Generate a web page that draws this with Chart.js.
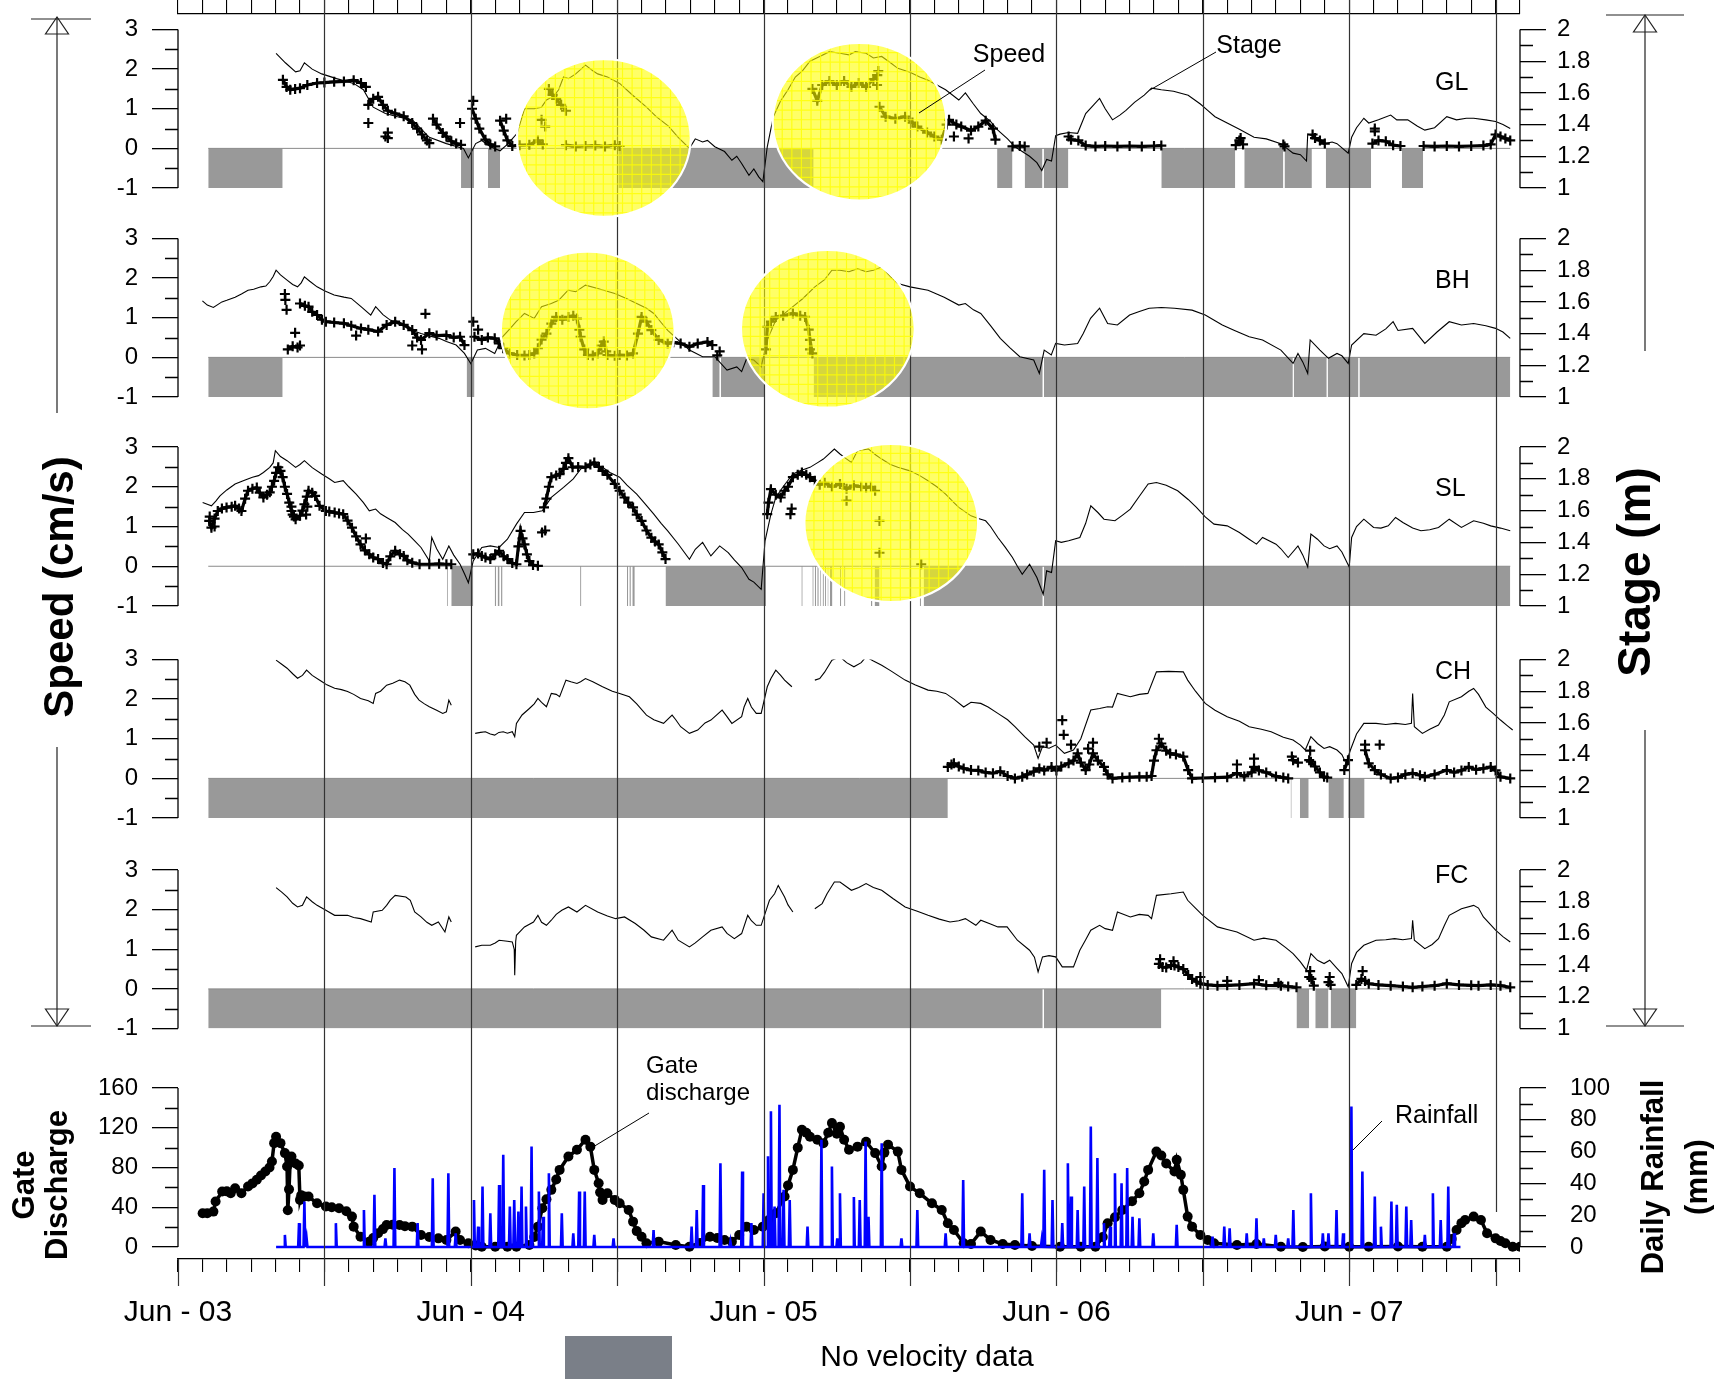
<!DOCTYPE html>
<html>
<head>
<meta charset="utf-8">
<script src="https://cdn.jsdelivr.net/npm/chart.js@4.4.1/dist/chart.umd.min.js"></script>
<style>
  html, body { margin: 0; padding: 0; background: #fff; }
  #page { position: relative; width: 1720px; height: 1379px; overflow: hidden; background: #fff; }
  #page canvas { position: absolute; left: 0; }
</style>
</head>
<body>
<div id="page">
  <canvas id="cGL" width="1720" height="220" style="top:0px"></canvas>
  <canvas id="cBH" width="1720" height="210" style="top:220px"></canvas>
  <canvas id="cSL" width="1720" height="210" style="top:430px"></canvas>
  <canvas id="cCH" width="1720" height="210" style="top:640px"></canvas>
  <canvas id="cFC" width="1720" height="210" style="top:850px"></canvas>
  <canvas id="cQ" width="1720" height="319" style="top:1060px"></canvas>
</div>
<script>
var FONT = "'Liberation Sans', Arial, Helvetica, sans-serif";

// x = months since 1 Jun 2003
var xTickLabels = ['Jun - 03', 'Jun - 04', 'Jun - 05', 'Jun - 06', 'Jun - 07'];
var halfYearLines = [6, 12, 18, 24, 30, 36, 42, 48, 54];
var speedTicks = [-1, 0, 1, 2, 3];
var speedMinor = [-0.5, 0.5, 1.5, 2.5];
var stageTicks = [1, 1.2, 1.4, 1.6, 1.8, 2];
var stageMinor = [1.1, 1.3, 1.5, 1.7, 1.9];
var gateTicks = [0, 40, 80, 120, 160];
var gateMinor = [20, 60, 100, 140];
var rainTicks = [0, 20, 40, 60, 80, 100];
var rainMinor = [10, 30, 50, 70, 90];
var panelNames = ['GL', 'BH', 'SL', 'CH', 'FC'];
var zeroLine = [[1.24, 0], [54.6, 0]];

// ---- GL ----
var glStage = [[4.02,1.849],[4.4,1.79],[4.82,1.733],[5.0,1.74],[5.18,1.79],[5.5,1.75],[5.89,1.72],[6.5,1.69],[7.2,1.66],[7.6,1.62],[8.0,1.51],[8.5,1.47],[9.0,1.45],[9.6,1.43],[10.3,1.32],[11.0,1.28],[11.7,1.25],[11.9,1.19],[12.2,1.28],[12.45,1.30],[12.8,1.26],[13.2,1.235],[13.5,1.275],[13.9,1.345],[14.2,1.50],[14.6,1.50],[14.9,1.51],[15.1,1.555],[15.4,1.58],[15.6,1.62],[15.8,1.70],[16.0,1.69],[16.3,1.72],[16.7,1.775],[17.0,1.74],[17.2,1.72],[17.6,1.70],[18.1,1.66],[18.6,1.59],[19.2,1.51],[19.6,1.45],[20.1,1.39],[20.5,1.32],[20.96,1.25],[21.2,1.31],[21.5,1.29],[21.7,1.30],[22.0,1.26],[22.4,1.23],[22.7,1.175],[22.9,1.20],[23.1,1.155],[23.4,1.08],[23.6,1.12],[23.8,1.07],[23.97,1.04],[24.15,1.26],[24.4,1.45],[24.7,1.55],[25.0,1.62],[25.3,1.70],[25.6,1.74],[25.9,1.80],[26.3,1.83],[26.7,1.86],[27.13,1.85],[27.5,1.84],[27.76,1.86],[28.2,1.85],[28.5,1.82],[28.84,1.83],[29.2,1.79],[29.5,1.755],[30.0,1.73],[30.4,1.70],[30.74,1.68],[31.1,1.65],[31.46,1.62],[32.0,1.555],[32.27,1.60],[32.6,1.53],[32.9,1.47],[33.3,1.42],[33.6,1.365],[34.0,1.31],[34.3,1.26],[34.6,1.23],[34.9,1.20],[35.2,1.16],[35.4,1.11],[35.6,1.18],[35.8,1.17],[35.97,1.33],[36.15,1.34],[36.5,1.35],[36.87,1.345],[37.2,1.47],[37.5,1.52],[37.77,1.565],[38.0,1.50],[38.3,1.43],[38.6,1.46],[38.85,1.49],[39.2,1.54],[39.6,1.586],[39.9,1.63],[40.3,1.62],[40.8,1.61],[41.4,1.585],[41.9,1.53],[42.2,1.49],[42.5,1.45],[43.0,1.41],[43.5,1.37],[44.1,1.32],[44.6,1.31],[45.2,1.28],[45.7,1.22],[46.0,1.21],[46.25,1.17],[46.3,1.34],[46.6,1.32],[47.0,1.28],[47.3,1.29],[47.5,1.28],[47.96,1.22],[48.1,1.32],[48.3,1.38],[48.6,1.44],[48.8,1.41],[49.2,1.43],[49.7,1.46],[49.95,1.43],[50.4,1.43],[50.8,1.39],[51.1,1.365],[51.5,1.38],[52.0,1.45],[52.4,1.43],[52.8,1.44],[53.1,1.44],[53.6,1.43],[54.0,1.42],[54.3,1.40],[54.6,1.376]];
var glSpeed = [[4.3,1.73],[4.45,1.55],[4.6,1.48],[4.8,1.5],[5.0,1.52],[5.3,1.6],[5.7,1.65],[6.0,1.66],[6.4,1.68],[6.8,1.69],[7.2,1.72],[7.5,1.65],[7.7,1.55],null,[7.8,1.1],[8.0,1.25],[8.2,1.3],[8.4,1.1],[8.6,0.95],[8.9,0.88],[9.25,0.81],[9.6,0.64],[9.8,0.5],[10.0,0.35],[10.2,0.2],[10.3,0.13],null,[10.45,0.75],[10.6,0.6],[10.85,0.39],[11.0,0.3],[11.2,0.18],[11.4,0.12],[11.6,0.09],null,[12.05,1.0],[12.2,0.75],[12.35,0.5],[12.6,0.22],[12.8,0.1],[13.0,0.05],null,[13.2,0.7],[13.35,0.45],[13.5,0.2],[13.7,0.06],[14.0,0.08],[14.4,0.09],[14.75,0.2],[14.95,0.1],null,[15.2,1.5],[15.35,1.35],[15.5,1.25],[15.7,1.1],[15.9,0.95],null,[15.9,0.08],[16.3,0.05],[16.7,0.06],[17.1,0.07],[17.5,0.05],[17.9,0.08],[18.1,0.06],null,[26.0,1.5],[26.2,1.2],[26.4,1.6],[26.7,1.7],[27.0,1.6],[27.3,1.7],[27.6,1.55],[27.9,1.65],[28.2,1.55],[28.5,1.75],[28.66,1.85],null,[28.75,1.05],[29.0,0.8],[29.4,0.75],[29.8,0.8],[30.1,0.65],[30.3,0.55],[30.7,0.4],[31.0,0.3],[31.3,0.22],[31.5,0.6],[31.6,0.72],[31.9,0.6],[32.1,0.55],[32.5,0.45],[32.8,0.55],[33.1,0.7],[33.4,0.5],[33.5,0.22],null,[34.2,0.05],[34.5,0.06],[34.7,0.05],null,[36.5,0.3],[36.6,0.22],[36.9,0.2],[37.2,0.07],[37.6,0.05],[38.0,0.06],[38.5,0.05],[39.0,0.06],[39.5,0.05],[40.0,0.06],[40.3,0.07],null,[43.35,0.08],[43.5,0.2],[43.65,0.1],null,[45.3,0.1],[45.35,0.05],null,[46.5,0.35],[46.6,0.26],[46.8,0.2],[47.0,0.12],null,[48.95,0.12],[49.2,0.2],[49.5,0.18],[49.8,0.08],[50.1,0.06],null,[51.05,0.06],[51.5,0.05],[52.0,0.06],[52.5,0.05],[53.0,0.06],[53.5,0.07],[53.8,0.1],[54.0,0.35],[54.2,0.3],[54.4,0.25],[54.6,0.2]];
var glScatter = [[7.8,0.64],[8.5,0.3],[8.6,0.26],[8.6,0.4],[11.56,0.64],[12.1,1.2],[13.45,0.75],[14.9,0.72],[15.05,0.55],[28.65,1.6],[28.7,1.95],[31.8,0.3],[32.4,0.25],[43.55,0.26],[49.05,0.43],[49.05,0.5]];
var glGaps = [[1.24,4.29],[11.6,12.13],[12.7,13.2],[18.05,26.05],[33.57,34.2],[34.7,35.43],[35.48,36.49],[40.3,43.33],[43.7,45.3],[45.35,46.47],[47.04,48.9],[50.16,51.03]];
var glCircles = [[17.45,0.26],[27.93,0.67]];

// ---- BH ----
var bhStage = [[1.0,1.607],[1.2,1.58],[1.45,1.565],[1.8,1.60],[2.0,1.61],[2.34,1.63],[2.6,1.65],[2.87,1.674],[3.1,1.68],[3.4,1.695],[3.6,1.70],[3.76,1.727],[3.9,1.76],[4.02,1.80],[4.2,1.77],[4.47,1.737],[4.7,1.71],[4.9,1.695],[5.05,1.72],[5.18,1.758],[5.4,1.73],[5.7,1.695],[6.0,1.67],[6.4,1.643],[6.8,1.63],[7.1,1.622],[7.5,1.57],[7.9,1.517],[8.1,1.57],[8.4,1.52],[8.7,1.485],[9.25,1.454],[9.6,1.42],[9.96,1.40],[10.3,1.385],[10.7,1.37],[11.0,1.35],[11.4,1.328],[11.74,1.275],[12.0,1.21],[12.27,1.296],[12.6,1.307],[12.98,1.275],[13.3,1.38],[13.6,1.43],[13.86,1.475],[14.2,1.527],[14.6,1.496],[14.9,1.57],[15.3,1.59],[15.6,1.61],[15.99,1.674],[16.3,1.664],[16.7,1.706],[17.2,1.685],[17.9,1.653],[18.4,1.62],[18.8,1.59],[19.2,1.56],[19.5,1.527],[19.8,1.47],[20.07,1.42],[20.5,1.36],[20.96,1.296],[21.5,1.254],[22.0,1.254],[22.5,1.17],[22.9,1.19],[23.1,1.16],[23.3,1.24],[23.6,1.233],[23.9,1.19],[24.15,1.36],[24.5,1.485],[24.8,1.52],[25.2,1.57],[25.6,1.62],[26.1,1.695],[26.5,1.74],[26.8,1.80],[27.13,1.80],[27.5,1.79],[27.85,1.81],[28.2,1.79],[28.5,1.80],[28.84,1.82],[29.2,1.76],[29.5,1.716],[30.0,1.695],[30.74,1.674],[31.4,1.63],[32.0,1.58],[32.27,1.59],[32.6,1.55],[32.9,1.527],[33.3,1.45],[33.7,1.37],[34.1,1.31],[34.5,1.254],[35.07,1.233],[35.3,1.149],[35.5,1.296],[35.79,1.265],[35.97,1.338],[36.33,1.328],[36.87,1.338],[37.1,1.40],[37.4,1.496],[37.77,1.56],[38.1,1.464],[38.5,1.454],[39.0,1.517],[39.4,1.54],[39.8,1.56],[40.3,1.565],[40.84,1.56],[41.56,1.548],[42.1,1.517],[42.8,1.454],[43.3,1.42],[43.9,1.38],[44.45,1.36],[45.2,1.296],[45.7,1.212],[45.9,1.275],[46.1,1.22],[46.3,1.149],[46.4,1.36],[46.8,1.296],[47.15,1.244],[47.5,1.275],[47.7,1.26],[47.96,1.212],[48.1,1.328],[48.6,1.40],[49.1,1.39],[49.5,1.43],[49.8,1.475],[50.0,1.42],[50.6,1.433],[51.1,1.338],[51.6,1.41],[52.1,1.475],[52.6,1.454],[53.1,1.464],[53.6,1.45],[54.0,1.433],[54.3,1.41],[54.6,1.37]];
var bhSpeed = [[4.5,0.2],[4.7,0.28],[4.9,0.25],[5.0,0.3],null,[5.0,1.36],[5.2,1.3],[5.35,1.28],[5.5,1.15],[5.7,1.07],[5.9,0.95],[6.06,0.9],[6.4,0.88],[6.8,0.86],[7.1,0.8],[7.5,0.73],[7.8,0.7],[8.2,0.65],[8.55,0.82],[8.9,0.9],[9.25,0.82],[9.6,0.69],[9.8,0.5],[9.96,0.44],[10.3,0.61],[10.6,0.55],[11.0,0.56],[11.3,0.5],[11.56,0.52],[11.74,0.31],null,[12.15,0.52],[12.45,0.44],[12.7,0.5],[12.98,0.48],[13.15,0.35],[13.33,0.23],[13.6,0.1],[13.9,0.06],[14.2,0.05],[14.4,0.06],[14.6,0.1],[14.75,0.23],[14.9,0.45],[15.1,0.6],[15.3,0.85],[15.5,1.02],[15.75,0.95],[16.0,1.02],[16.2,1.05],[16.35,0.98],[16.45,0.7],[16.5,0.52],[16.65,0.2],[16.8,0.06],[17.0,0.05],[17.2,0.1],[17.35,0.3],[17.45,0.4],[17.55,0.15],[17.6,0.06],[17.9,0.04],[18.1,0.06],[18.4,0.05],[18.65,0.1],[18.85,0.6],[19.0,1.02],[19.2,0.9],[19.4,0.69],[19.7,0.44],[20.07,0.35],[20.3,0.38],[20.6,0.35],[20.96,0.27],[21.3,0.35],[21.7,0.39],[21.9,0.31],null,[24.1,0.2],[24.15,0.77],[24.3,0.9],[24.5,1.02],[24.8,1.05],[25.2,1.11],[25.5,1.05],[25.7,1.02],[25.85,0.7],[25.9,0.44],[26.0,0.1]];
var bhScatter = [[4.38,1.6],[4.4,1.45],[4.45,1.2],[4.8,0.62],[7.3,0.55],[9.6,0.3],[10.0,0.2],[10.14,1.1],[12.1,0.9],[12.3,0.7],[22.1,0.05],[22.2,0.15],[25.9,0.2]];
var bhGaps = [[1.24,4.29],[11.83,12.15],[21.9,22.2],[22.25,24.06],[26.05,35.44],[35.49,45.69],[45.73,47.08],[47.12,48.38],[48.42,54.6]];
var bhCircles = [[16.79,0.68],[26.63,0.72]];

// ---- SL ----
var slStage = [[1.01,1.651],[1.2,1.64],[1.37,1.63],[1.55,1.66],[1.72,1.693],[2.0,1.73],[2.34,1.767],[2.7,1.79],[3.05,1.81],[3.3,1.82],[3.5,1.84],[3.76,1.872],[3.9,1.90],[3.99,1.977],[4.2,1.94],[4.47,1.914],[4.82,1.872],[5.0,1.89],[5.18,1.914],[5.5,1.87],[5.89,1.83],[6.2,1.80],[6.42,1.777],[6.77,1.788],[7.0,1.75],[7.3,1.704],[7.6,1.65],[7.84,1.599],[8.1,1.61],[8.3,1.58],[8.55,1.557],[8.9,1.525],[9.2,1.48],[9.43,1.452],[9.7,1.41],[9.96,1.368],[10.3,1.284],[10.4,1.431],[10.6,1.36],[10.85,1.294],[11.1,1.378],[11.3,1.32],[11.56,1.263],[11.75,1.20],[11.9,1.147],[12.1,1.284],[12.45,1.368],[12.8,1.378],[13.16,1.368],[13.5,1.42],[13.87,1.515],[14.2,1.588],[14.57,1.588],[14.93,1.599],[15.3,1.683],[15.8,1.746],[16.2,1.80],[16.5,1.861],[16.97,1.893],[17.4,1.872],[17.7,1.84],[18.1,1.81],[18.4,1.76],[18.8,1.704],[19.1,1.65],[19.5,1.578],[19.8,1.52],[20.07,1.473],[20.5,1.39],[20.96,1.294],[21.2,1.357],[21.5,1.40],[21.84,1.315],[22.2,1.378],[22.55,1.336],[22.8,1.29],[23.1,1.242],[23.4,1.168],[23.6,1.15],[23.9,1.105],[24.06,1.41],[24.3,1.578],[24.5,1.683],[24.8,1.75],[25.2,1.83],[25.5,1.85],[25.9,1.872],[26.2,1.90],[26.45,1.924],[26.9,1.987],[27.13,1.956],[27.35,1.93],[27.6,1.903],[27.85,1.977],[28.3,1.987],[28.6,1.95],[28.84,1.924],[29.2,1.89],[29.5,1.872],[30.0,1.85],[30.4,1.82],[30.74,1.788],[31.1,1.75],[31.46,1.704],[31.8,1.65],[32.0,1.62],[32.5,1.567],[32.8,1.55],[33.1,1.536],[33.3,1.50],[33.6,1.431],[33.9,1.37],[34.2,1.305],[34.4,1.25],[34.6,1.20],[34.9,1.263],[35.2,1.179],[35.46,1.074],[35.6,1.221],[35.8,1.21],[35.97,1.41],[36.2,1.40],[36.5,1.41],[36.96,1.431],[37.2,1.52],[37.41,1.63],[37.7,1.588],[37.95,1.546],[38.4,1.536],[38.7,1.57],[39.03,1.609],[39.4,1.69],[39.76,1.767],[40.1,1.777],[40.5,1.76],[40.97,1.725],[41.4,1.67],[41.74,1.62],[42.1,1.56],[42.46,1.515],[43.0,1.504],[43.5,1.462],[43.9,1.42],[44.2,1.389],[44.45,1.431],[45.0,1.389],[45.2,1.36],[45.5,1.305],[45.9,1.378],[46.1,1.32],[46.3,1.246],[46.43,1.452],[46.7,1.42],[46.97,1.378],[47.2,1.36],[47.5,1.378],[47.7,1.34],[48.0,1.246],[48.1,1.431],[48.3,1.50],[48.6,1.546],[49.0,1.494],[49.3,1.49],[49.6,1.504],[49.9,1.557],[50.2,1.525],[50.6,1.49],[50.94,1.473],[51.3,1.48],[51.66,1.494],[52.1,1.546],[52.6,1.494],[53.1,1.536],[53.5,1.52],[53.8,1.504],[54.2,1.49],[54.6,1.473]];
var slSpeed = [[1.28,1.14],[1.37,0.97],[1.5,1.2],[1.63,1.39],[1.8,1.45],[1.99,1.48],[2.2,1.5],[2.34,1.52],[2.5,1.45],[2.6,1.39],[2.75,1.7],[2.87,1.9],[3.05,1.95],[3.23,1.98],[3.35,1.85],[3.5,1.73],[3.65,1.8],[3.76,1.86],[3.85,2.0],[3.94,2.15],[4.02,2.35],[4.11,2.49],[4.2,2.4],[4.29,2.24],[4.38,2.0],[4.47,1.82],[4.56,1.6],[4.65,1.39],[4.75,1.25],[4.82,1.18],[5.0,1.27],[5.1,1.4],[5.18,1.56],[5.28,1.75],[5.35,1.9],[5.5,1.85],[5.62,1.77],[5.8,1.52],[6.06,1.39],[6.2,1.38],[6.42,1.35],[6.6,1.33],[6.77,1.31],[6.95,1.15],[7.13,0.97],[7.3,0.75],[7.48,0.55],[7.66,0.4],[7.84,0.3],[8.0,0.22],[8.2,0.18],[8.4,0.08],[8.55,0.05],[8.7,0.25],[8.9,0.39],[9.1,0.3],[9.25,0.26],[9.4,0.15],[9.6,0.09],[9.9,0.05],[10.3,0.05],[10.7,0.06],[11.0,0.05],[11.2,0.05],null,[12.1,0.3],[12.3,0.32],[12.45,0.26],[12.6,0.22],[12.8,0.18],[13.0,0.3],[13.16,0.39],[13.35,0.25],[13.5,0.18],[13.7,0.08],[13.87,0.05],[13.95,0.5],[14.04,0.89],[14.12,0.7],[14.2,0.55],[14.3,0.3],[14.4,0.13],[14.55,0.03],[14.75,0.01],null,[15.0,1.48],[15.1,1.7],[15.2,2.0],[15.3,2.24],[15.5,2.28],[15.64,2.32],[15.8,2.45],[15.9,2.6],[16.0,2.72],[16.17,2.49],[16.4,2.5],[16.7,2.49],[16.9,2.56],[17.06,2.61],[17.25,2.5],[17.4,2.4],[17.6,2.3],[17.9,2.07],[18.1,1.9],[18.3,1.73],[18.45,1.6],[18.65,1.48],[18.8,1.3],[19.0,1.14],[19.2,0.9],[19.4,0.72],[19.55,0.62],[19.7,0.55],[19.85,0.35],[19.98,0.18],null,[24.15,1.31],[24.2,1.6],[24.3,1.94],[24.5,1.8],[24.7,1.73],[24.86,1.9],[25.0,2.0],[25.2,2.24],[25.4,2.3],[25.57,2.36],[25.75,2.3],[25.9,2.24],[26.1,2.15],[26.3,2.05],[26.5,2.1],[26.8,2.0],[27.13,2.07],[27.4,1.95],[27.7,2.03],[28.0,2.0],[28.2,1.98],[28.4,2.0],[28.57,1.9]];
var slScatter = [[1.3,1.25],[1.5,1.0],[4.65,1.5],[4.7,1.3],[5.25,1.3],[5.3,1.5],[7.7,0.7],[14.92,0.85],[15.05,0.9],[25.1,1.31],[25.15,1.45],[27.4,1.65],[28.75,1.14],[28.75,0.34],[30.46,0.05]];
var slGaps = [[11.02,11.06],[11.2,12.1],[12.98,13.04],[13.1,13.18],[13.24,13.3],[16.48,16.53],[18.4,18.45],[18.5,18.56],[18.62,18.72],[19.98,24.1],[25.55,25.6],[26.0,26.05],[26.1,26.15],[26.2,26.26],[26.32,26.36],[26.42,26.47],[26.52,26.56],[26.62,26.66],[26.72,26.82],[27.13,27.18],[27.3,27.35],[28.4,28.46],[28.55,28.75],[30.4,30.45],[30.56,35.44],[35.49,54.6]];
var slCircles = [[29.23,1.09]];

// ---- CH ----
var chStage = [[4.02,1.996],[4.25,1.97],[4.47,1.945],[4.7,1.91],[4.9,1.882],[5.1,1.90],[5.27,1.933],[5.5,1.90],[5.89,1.861],[6.1,1.84],[6.42,1.819],[6.7,1.81],[6.95,1.798],[7.2,1.78],[7.48,1.754],[7.8,1.74],[8.0,1.723],[8.1,1.786],[8.3,1.80],[8.55,1.838],[8.8,1.85],[9.08,1.87],[9.3,1.86],[9.5,1.838],[9.7,1.78],[9.88,1.744],[10.1,1.72],[10.3,1.702],[10.6,1.68],[10.85,1.66],[11.0,1.67],[11.1,1.744],[11.2,1.712],null,[12.18,1.534],[12.4,1.54],[12.6,1.544],[12.8,1.53],[12.98,1.523],[13.15,1.54],[13.33,1.544],[13.5,1.535],[13.7,1.544],[13.8,1.513],[13.87,1.597],[14.1,1.65],[14.4,1.691],[14.6,1.72],[14.75,1.754],[14.9,1.73],[15.1,1.702],[15.3,1.786],[15.5,1.78],[15.64,1.765],[15.9,1.87],[16.1,1.86],[16.35,1.849],[16.5,1.86],[16.7,1.88],[17.0,1.86],[17.4,1.828],[17.8,1.80],[18.1,1.786],[18.5,1.765],[18.8,1.72],[19.2,1.649],[19.5,1.62],[19.9,1.597],[20.25,1.649],[20.4,1.62],[20.6,1.576],[20.96,1.534],[21.3,1.555],[21.6,1.60],[21.84,1.618],[22.0,1.64],[22.3,1.681],[22.5,1.64],[22.7,1.597],[23.1,1.639],[23.2,1.70],[23.35,1.754],[23.5,1.70],[23.7,1.66],[23.9,1.66],[24.15,1.828],[24.3,1.88],[24.5,1.933],[24.7,1.90],[24.86,1.87],[25.0,1.85],[25.16,1.828],null,[26.1,1.87],[26.3,1.88],[26.5,1.92],[26.8,1.996],[27.13,2.017],[27.4,1.98],[27.7,1.954],[28.0,1.98],[28.2,2.017],[28.5,1.99],[28.84,1.964],[29.2,1.93],[29.5,1.90],[29.8,1.87],[30.2,1.84],[30.74,1.807],[31.1,1.80],[31.46,1.786],[31.8,1.75],[32.2,1.70],[32.5,1.73],[32.9,1.723],[33.2,1.70],[33.6,1.66],[34.0,1.62],[34.3,1.576],[34.7,1.513],[35.07,1.46],[35.25,1.376],[35.43,1.45],[35.7,1.44],[35.97,1.46],[36.33,1.408],[36.7,1.429],[37.0,1.50],[37.41,1.681],[37.77,1.691],[38.1,1.702],[38.3,1.70],[38.5,1.786],[39.03,1.765],[39.4,1.78],[39.75,1.786],[40.1,1.922],[40.6,1.925],[41.2,1.922],[41.38,1.87],[41.7,1.80],[42.1,1.723],[42.5,1.68],[43.0,1.639],[43.5,1.61],[43.9,1.576],[44.4,1.56],[44.8,1.544],[45.3,1.51],[45.7,1.492],[46.0,1.46],[46.2,1.429],[46.43,1.513],[46.7,1.47],[46.97,1.439],[47.2,1.45],[47.5,1.429],[47.7,1.40],[47.87,1.345],[48.05,1.429],[48.3,1.53],[48.6,1.597],[49.1,1.597],[49.5,1.59],[49.9,1.597],[50.3,1.59],[50.55,1.597],[50.6,1.786],[50.67,1.576],[51.0,1.534],[51.3,1.56],[51.66,1.586],[51.9,1.65],[52.1,1.733],[52.6,1.765],[52.9,1.80],[53.1,1.817],[53.3,1.78],[53.6,1.70],[53.9,1.66],[54.2,1.618],[54.5,1.58],[54.7,1.555]];
var chSpeed = [[31.55,0.29],[31.7,0.35],[31.8,0.38],[32.0,0.3],[32.2,0.25],[32.5,0.21],[32.8,0.2],[33.1,0.15],[33.4,0.13],[33.7,0.18],[34.0,0.06],[34.3,0.0],[34.6,0.04],[34.8,0.1],[35.07,0.17],[35.3,0.25],[35.5,0.2],[35.8,0.29],[36.0,0.2],[36.2,0.3],[36.5,0.38],[36.7,0.45],[36.87,0.63],[37.0,0.4],[37.2,0.21],[37.35,0.35],[37.5,0.63],[37.7,0.45],[37.95,0.29],[38.1,0.1],[38.3,0.0],[38.7,0.02],[39.0,0.03],[39.4,0.04],[39.7,0.04],[39.9,0.06],[40.0,0.45],[40.1,0.71],[40.3,0.88],[40.5,0.7],[40.66,0.63],[40.9,0.6],[41.2,0.55],[41.4,0.21],[41.56,0.0],[42.0,0.01],[42.5,0.02],[43.0,0.03],[43.4,0.13],[43.7,0.05],[44.0,0.15],[44.1,0.29],[44.3,0.2],[44.6,0.15],[45.0,0.05],[45.3,0.02],[45.5,0.0],null,[45.7,0.46],[45.9,0.4],null,[46.36,0.46],[46.43,0.42],[46.6,0.3],[46.8,0.15],[46.97,0.04],[47.1,0.02],null,[47.8,0.21],[47.95,0.46],null,[48.65,0.71],[48.8,0.38],[49.05,0.21],[49.3,0.1],[49.7,0.0],[50.0,0.02],[50.3,0.1],[50.6,0.13],[50.9,0.08],[51.1,0.04],[51.5,0.1],[52.0,0.21],[52.3,0.15],[52.6,0.2],[52.9,0.29],[53.2,0.22],[53.5,0.25],[53.8,0.29],[54.0,0.2],[54.2,0.04],[54.6,0.0]];
var chScatter = [[35.3,0.8],[35.6,0.9],[36.24,1.47],[36.3,1.1],[36.6,0.85],[37.3,0.75],[37.5,0.9],[40.2,1.0],[43.4,0.35],[44.1,0.5],[45.65,0.55],[46.4,0.7],[48.65,0.85],[49.25,0.85]];
var chGaps = [[1.24,31.55],[45.6,45.64],[45.98,46.34],[47.15,47.78],[47.96,48.63]];

// ---- FC ----
var fcStage = [[4.02,1.889],[4.25,1.86],[4.47,1.83],[4.7,1.79],[4.9,1.767],[5.1,1.777],[5.27,1.83],[5.5,1.80],[5.7,1.777],[6.06,1.746],[6.42,1.714],[6.95,1.714],[7.2,1.70],[7.48,1.693],[7.92,1.672],[8.0,1.735],[8.37,1.746],[8.55,1.777],[8.7,1.81],[8.9,1.84],[9.34,1.83],[9.52,1.809],[9.7,1.735],[9.96,1.704],[10.2,1.67],[10.4,1.651],[10.67,1.672],[10.94,1.609],[11.1,1.704],[11.2,1.672],null,[12.18,1.515],[12.45,1.525],[12.8,1.525],[13.0,1.54],[13.16,1.557],[13.5,1.55],[13.7,1.546],[13.78,1.5],[13.8,1.336],[13.84,1.55],[13.87,1.588],[14.2,1.641],[14.57,1.672],[14.75,1.714],[14.9,1.67],[15.1,1.651],[15.3,1.683],[15.5,1.72],[15.73,1.746],[16.0,1.767],[16.35,1.735],[16.7,1.777],[17.2,1.735],[17.6,1.71],[17.94,1.693],[18.3,1.704],[18.74,1.662],[19.1,1.62],[19.4,1.578],[19.9,1.557],[20.25,1.62],[20.5,1.557],[20.96,1.515],[21.2,1.54],[21.5,1.578],[21.84,1.62],[22.3,1.641],[22.5,1.60],[22.8,1.567],[23.1,1.599],[23.35,1.714],[23.5,1.68],[23.7,1.651],[23.9,1.651],[24.24,1.809],[24.45,1.85],[24.6,1.903],[24.86,1.83],[25.0,1.78],[25.2,1.735],null,[26.1,1.756],[26.4,1.788],[26.6,1.85],[26.9,1.924],[27.13,1.924],[27.6,1.872],[27.9,1.89],[28.2,1.914],[28.5,1.89],[28.84,1.872],[29.3,1.82],[29.8,1.767],[30.3,1.74],[30.74,1.714],[31.2,1.69],[31.64,1.672],[32.0,1.68],[32.27,1.693],[32.7,1.651],[32.9,1.683],[33.3,1.66],[33.6,1.641],[33.98,1.641],[34.4,1.557],[34.9,1.494],[35.1,1.45],[35.25,1.357],[35.43,1.452],[35.7,1.46],[35.97,1.452],[36.24,1.389],[36.7,1.389],[36.96,1.494],[37.2,1.56],[37.41,1.62],[37.77,1.651],[38.0,1.63],[38.3,1.62],[38.5,1.735],[39.03,1.704],[39.4,1.72],[39.76,1.714],[39.9,1.693],[40.1,1.84],[40.7,1.85],[41.2,1.861],[41.38,1.809],[41.7,1.76],[42.0,1.714],[42.6,1.641],[43.0,1.625],[43.4,1.609],[44.1,1.557],[44.5,1.57],[45.0,1.557],[45.4,1.51],[45.7,1.473],[46.0,1.42],[46.25,1.368],[46.43,1.473],[46.7,1.43],[46.97,1.41],[47.2,1.431],[47.5,1.38],[47.7,1.347],[47.96,1.263],[48.1,1.41],[48.3,1.48],[48.6,1.525],[49.1,1.557],[49.5,1.56],[49.86,1.567],[50.2,1.56],[50.55,1.567],[50.6,1.683],[50.67,1.557],[51.1,1.504],[51.4,1.53],[51.66,1.567],[51.9,1.65],[52.1,1.714],[52.6,1.756],[53.1,1.777],[53.3,1.76],[53.5,1.704],[54.0,1.62],[54.3,1.58],[54.6,1.546]];
var fcSpeed = [[40.2,0.63],[40.35,0.55],[40.5,0.54],[40.7,0.6],[40.84,0.59],[41.0,0.55],[41.2,0.5],[41.4,0.35],[41.56,0.25],[41.75,0.18],[41.9,0.13],[42.2,0.1],[42.6,0.08],[43.0,0.09],[43.5,0.1],[44.1,0.13],[44.6,0.09],[45.2,0.08],[45.5,0.06],[45.84,0.04],null,[46.36,0.3],[46.45,0.25],[46.55,0.08],null,[47.15,0.17],[47.24,0.1],null,[48.29,0.1],[48.5,0.25],[48.65,0.2],[48.8,0.13],[49.2,0.1],[49.7,0.08],[50.2,0.06],[50.6,0.04],[51.0,0.06],[51.5,0.08],[52.0,0.13],[52.5,0.1],[53.0,0.09],[53.3,0.08],[53.8,0.1],[54.2,0.08],[54.6,0.04]];
var fcScatter = [[40.25,0.75],[40.8,0.7],[41.9,0.3],[43.0,0.2],[44.3,0.22],[45.1,0.15],[46.4,0.45],[47.2,0.3],[48.55,0.45]];
var fcGaps = [[1.24,35.44],[35.49,40.3],[45.84,46.36],[46.61,47.15],[47.24,48.29]];

// ---- gate discharge (m3/s) and daily rainfall (mm) ----
var gateFlow = [[1.01,34],[1.2,34],[1.45,35.6],[1.54,45.7],[1.81,55.8],[2.0,56],[2.16,54.1],[2.34,59.2],[2.6,54.1],[2.87,60.8],[3.05,64],[3.23,67.6],[3.4,72],[3.58,76],[3.75,80],[3.85,86],[3.94,104.5],[4.02,111],[4.2,104.5],[4.38,94.5],[4.47,81],[4.5,37],[4.55,58],[4.6,88],[4.65,91],[4.82,84],[4.95,82],[5.0,47.4],[5.05,52],[5.18,50.8],[5.35,50.8],[5.7,44],[6.06,40.7],[6.3,40],[6.6,39],[6.9,36],[7.13,30.6],[7.2,20.5],[7.48,10.4],[7.84,5.4],[8.0,9],[8.2,13.8],[8.4,18],[8.55,22.2],[8.8,22.5],[9.08,22.2],[9.3,21],[9.6,20.5],[9.96,12.1],[10.3,10],[10.67,8.7],[11.0,7],[11.38,15.5],[11.56,7.1],[11.9,3.7],[12.2,1.5],[12.45,0.3],[13.0,0.2],[13.5,0.3],[13.87,0.3],[14.4,2],[14.6,10],[14.75,20.5],[14.93,39],[15.1,48],[15.3,57.5],[15.5,68],[15.64,77.6],[16.0,91],[16.35,97.8],[16.7,108],[16.9,101],[17.06,77.6],[17.24,64.2],[17.3,55],[17.4,47.4],[17.6,54],[17.9,47.4],[18.1,44],[18.47,37.3],[18.65,25.5],[18.8,16],[19.0,10.4],[19.2,3.7],[19.7,5.4],[20.4,2],[20.96,0.3],[21.4,4],[21.8,10.4],[22.1,9],[22.4,7.1],[22.7,5.4],[23.0,12],[23.3,20.5],[23.6,17.1],[23.97,20.5],[24.2,27],[24.5,34],[24.86,50.8],[25.0,62],[25.2,77.6],[25.4,100],[25.57,118],[25.75,115],[25.9,111],[26.2,108],[26.45,104.5],[26.65,115],[26.8,124.7],[27.0,114],[27.13,121],[27.3,108],[27.5,97.8],[27.85,101],[28.2,106],[28.57,94.5],[28.84,81],[28.95,95],[29.1,103],[29.5,96],[29.65,77.6],[30.0,60.8],[30.4,54],[30.9,44],[31.3,37.3],[31.55,23.9],[31.8,17.1],[32.2,3.7],[32.5,3],[32.9,15.5],[33.3,7.1],[33.8,3],[34.3,2],[35.0,1],[36.15,0.3],[37.0,0.3],[37.6,0.3],[37.9,10],[38.1,23.9],[38.4,30],[38.7,37.3],[39.1,46],[39.4,54],[39.6,66],[39.76,77.6],[40.1,96],[40.3,92],[40.5,84],[40.84,76],[40.93,87.7],[41.1,72.6],[41.2,57.5],[41.38,30.6],[41.56,20.5],[41.9,12.1],[42.2,7],[42.46,3.7],[43.4,2],[44.2,3],[45.2,0.3],[46.1,0],[47.0,0.5],[48.0,0.3],[48.8,0.3],[50.0,0.5],[51.0,0.3],[52.0,0.3],[52.2,8],[52.4,17.1],[52.6,24],[52.75,27.2],[53.1,30.6],[53.4,27.2],[53.65,13.8],[54.0,8.7],[54.2,6],[54.4,3.7],[54.7,0.3],[55.0,0.3]];
var rainSpan = [4.02, 52.56];
var rainEvents = [[4.38,7.6],[4.96,15],[5.18,28.6],[5.27,5.5],[6.47,15],[7.62,23.3],[8.05,32.8],[8.5,5.5],[8.87,49.6],[9.82,15],[10.44,43.3],[11.08,46.4],[11.38,8.6],[12.13,29.6],[12.3,12.8],[12.48,38],[12.8,21.2],[13.16,39],[13.33,58],[13.6,25.4],[13.78,29.6],[13.95,22.3],[14.08,38],[14.26,25.4],[14.49,63.2],[14.79,34.9],[14.96,19],[15.2,46.4],[15.73,21.2],[16.2,8.6],[16.44,34.9],[16.67,34.9],[17.06,7.6],[17.85,5.5],[19.49,10.7],[21.05,12.8],[21.26,23.3],[21.52,39],[22.23,52.7],[22.64,3.4],[23.12,47.5],[23.5,15],[24.0,33.8],[24.18,57],[24.3,85.3],[24.45,25.4],[24.65,89.5],[24.82,36],[25.07,29.6],[25.8,12.8],[26.37,67.4],[26.8,50.6],[27.02,5.5],[27.13,33.8],[27.7,31.5],[27.94,29.6],[28.18,66.4],[28.3,19],[28.84,65.3],[29.65,5.5],[30.3,23.3],[31.46,8.6],[32.18,42.2],[34.6,33.8],[34.9,8.6],[35.4,4.4],[35.5,48.5],[35.84,29.6],[36.24,15],[36.47,52.7],[36.6,31.7],[36.87,23.3],[37.14,38],[37.41,75.8],[37.68,55.9],[37.95,15],[38.2,12.8],[38.4,46.4],[38.67,40.1],[38.9,49.6],[39.12,19],[39.4,18],[39.97,8.6],[40.93,13.9],[42.4,6.5],[42.88,12.8],[43.1,11.8],[43.8,8.6],[44.2,18],[44.5,5.5],[44.99,7.6],[45.5,5.5],[45.71,23.3],[46.43,33.8],[46.92,8.6],[47.15,8.6],[47.48,23.3],[47.75,8.6],[48.09,88.4],[48.54,47.5],[49.05,31.7],[49.3,12.8],[49.73,28.6],[49.95,26.5],[50.34,25.4],[50.54,17],[51.1,7.6],[51.43,33.8],[51.75,17],[52.06,38],[52.3,8.6]];

// highlight ellipse half-axes: months, cm/s
var circleRadius = [3.56, 1.99];

// ---------- helpers ----------
function pts(list) {
  var out = [], lastX = 0;
  list.forEach(function (p) {
    if (p === null) { out.push({x: lastX, y: null}); }
    else { lastX = p[0]; out.push({x: p[0], y: p[1]}); }
  });
  return out;
}
function gapPts(list) {
  var out = [];
  list.forEach(function (g) {
    out.push({x: g[0], y: 0}, {x: g[1], y: 0}, {x: g[1], y: null});
  });
  return out;
}
function rainPts(events) {
  var out = [{x: rainSpan[0], y: 0}];
  events.forEach(function (e) {
    out.push({x: e[0] - 0.035, y: 0}, {x: e[0], y: e[1]}, {x: e[0] + 0.035, y: 0});
  });
  out.push({x: rainSpan[1], y: 0});
  return out;
}

function yAxis(pos, min, max, ticks, width, pad) {
  return {
    type: 'linear', position: pos, min: min, max: max,
    afterBuildTicks: function (s) { s.ticks = ticks.map(function (v) { return {value: v}; }); },
    afterFit: function (s) { s.width = width; s.paddingTop = 0; s.paddingBottom = 0; },
    grid: {drawOnChartArea: false, drawTicks: true, tickLength: 26, color: '#000', lineWidth: 1.3},
    border: {display: false},
    ticks: {padding: pad, color: '#000', autoSkip: false, font: {family: FONT, size: 24},
      callback: function (v) { return String(v); }}
  };
}

function drawRotated(ctx, text, x, y, font) {
  ctx.save();
  ctx.translate(x, y);
  ctx.rotate(-Math.PI / 2);
  ctx.font = font;
  ctx.textAlign = 'center';
  ctx.textBaseline = 'middle';
  ctx.fillText(text, 0, 0);
  ctx.restore();
}

function triangle(ctx, x, yApex, dir) {
  ctx.beginPath();
  ctx.moveTo(x, yApex);
  ctx.lineTo(x - 11.5, yApex + 17 * dir);
  ctx.lineTo(x + 11.5, yApex + 17 * dir);
  ctx.closePath();
  ctx.stroke();
}

// page-level decoration (drawn in every canvas, each shows its slice)
function drawPageDecor(ctx) {
  ctx.strokeStyle = '#222';
  ctx.fillStyle = '#000';
  ctx.lineWidth = 1.2;
  // stage / speed bracket arrows
  [[57, 17, 413, 747, 1026, 31, 91, 19], [1645, 15, 351, 730, 1026, 1606, 1684, 15]].forEach(function (a) {
    ctx.beginPath();
    ctx.moveTo(a[0], a[1]); ctx.lineTo(a[0], a[2]);
    ctx.moveTo(a[0], a[3]); ctx.lineTo(a[0], a[4]);
    ctx.moveTo(a[5], a[7]); ctx.lineTo(a[6], a[7]);
    ctx.moveTo(a[5], a[4]); ctx.lineTo(a[6], a[4]);
    ctx.stroke();
    triangle(ctx, a[0], a[1], 1);
    triangle(ctx, a[0], a[4], -1);
  });
  // axis titles
  drawRotated(ctx, 'Speed (cm/s)', 61, 587, 'bold 42px ' + FONT);
  drawRotated(ctx, 'Stage (m)', 1637, 572, 'bold 46px ' + FONT);
  drawRotated(ctx, 'Gate', 25, 1185, 'bold 31px ' + FONT);
  drawRotated(ctx, 'Discharge', 58, 1185, 'bold 31px ' + FONT);
  drawRotated(ctx, 'Daily Rainfall', 1654, 1177, 'bold 31px ' + FONT);
  drawRotated(ctx, '(mm)', 1698, 1177, 'bold 31px ' + FONT);
  // panel names
  ctx.font = '25px ' + FONT;
  ctx.textAlign = 'left';
  ctx.textBaseline = 'middle';
  var nameY = [83, 281, 489, 672, 876];
  panelNames.forEach(function (n, i) { ctx.fillText(n, 1435, nameY[i]); });
  // callouts
  ctx.textAlign = 'center';
  ctx.fillText('Speed', 1009, 55);
  ctx.fillText('Stage', 1249, 46);
  ctx.textAlign = 'left';
  ctx.font = '24px ' + FONT;
  ctx.fillText('Gate', 646, 1066);
  ctx.fillText('discharge', 646, 1093);
  ctx.font = '25px ' + FONT;
  ctx.fillText('Rainfall', 1395, 1116);
  ctx.lineWidth = 1;
  ctx.strokeStyle = '#000';
  [[985, 70, 919, 113], [1216, 52, 1150, 90], [649, 1113, 593, 1147], [1382, 1121, 1353, 1150]].forEach(function (l) {
    ctx.beginPath(); ctx.moveTo(l[0], l[1]); ctx.lineTo(l[2], l[3]); ctx.stroke();
  });
  // legend
  ctx.fillStyle = '#7a7f88';
  ctx.fillRect(565, 1336, 107, 43);
  ctx.fillStyle = '#000';
  ctx.font = '30px ' + FONT;
  ctx.textAlign = 'center';
  ctx.fillText('No velocity data', 927, 1358);
}

function drawAxisExtras(chart, id, minors, side) {
  var s = chart.scales[id];
  if (!s) return;
  var ctx = chart.ctx;
  var vals = s.ticks.map(function (t) { return t.value; });
  var x = side === 'left' ? chart.chartArea.left : chart.chartArea.right;
  var dir = side === 'left' ? -1 : 1;
  ctx.strokeStyle = '#000';
  ctx.lineWidth = 1.3;
  ctx.beginPath();
  ctx.moveTo(x, s.getPixelForValue(Math.max.apply(null, vals)));
  ctx.lineTo(x, s.getPixelForValue(Math.min.apply(null, vals)));
  minors.forEach(function (v) {
    var y = Math.round(s.getPixelForValue(v)) + 0.5;
    ctx.moveTo(x, y); ctx.lineTo(x + 13 * dir, y);
  });
  ctx.stroke();
}

var decor = {
  id: 'decor',
  afterDatasetsDraw: function (chart, args, opts) {
    var ctx = chart.ctx, xs = chart.scales.x;
    ctx.save();
    ctx.translate(0, -opts.offY);
    ctx.strokeStyle = '#333';
    ctx.lineWidth = 1.2;
    halfYearLines.forEach(function (m, i) {
      var px = Math.round(xs.getPixelForValue(m)) + 0.5;
      ctx.beginPath();
      if (i === halfYearLines.length - 1) {
        ctx.moveTo(px, 0); ctx.lineTo(px, 1212);
        ctx.moveTo(px, 1259); ctx.lineTo(px, 1286);
      } else {
        ctx.moveTo(px, 0); ctx.lineTo(px, 1286);
      }
      ctx.stroke();
    });
    var p0 = Math.round(xs.getPixelForValue(0)) + 0.5;
    ctx.beginPath(); ctx.moveTo(p0, 1259); ctx.lineTo(p0, 1286); ctx.stroke();
    ctx.restore();

    // highlighted regions
    var ys = chart.scales.y;
    (opts.circles || []).forEach(function (c) {
      var cx = xs.getPixelForValue(c[0]), cy = ys.getPixelForValue(c[1]);
      var rx = Math.abs(xs.getPixelForValue(c[0] + circleRadius[0]) - cx);
      var ry = Math.abs(ys.getPixelForValue(c[1] + circleRadius[1]) - cy);
      ctx.save();
      ctx.beginPath();
      ctx.ellipse(cx, cy, rx, ry, 0, 0, Math.PI * 2);
      ctx.fillStyle = 'rgba(255,255,0,0.6)';
      ctx.fill();
      ctx.clip();
      ctx.strokeStyle = 'rgba(255,255,0,0.8)';
      ctx.lineWidth = 1.2;
      ctx.beginPath();
      for (var gx = cx - rx; gx <= cx + rx; gx += 9.6) { ctx.moveTo(gx, cy - ry); ctx.lineTo(gx, cy + ry); }
      for (var gy = cy - ry; gy <= cy + ry; gy += 9.6) { ctx.moveTo(cx - rx, gy); ctx.lineTo(cx + rx, gy); }
      ctx.stroke();
      ctx.restore();
      ctx.save();
      ctx.beginPath();
      ctx.ellipse(cx, cy, rx, ry, 0, 0, Math.PI * 2);
      ctx.strokeStyle = '#fff';
      ctx.lineWidth = 2.2;
      ctx.stroke();
      ctx.restore();
    });
  },
  afterDraw: function (chart, args, opts) {
    var ctx = chart.ctx;
    ctx.save();
    (opts.axes || []).forEach(function (a) { drawAxisExtras(chart, a[0], a[1], a[2]); });
    ctx.translate(0, -opts.offY);
    drawPageDecor(ctx);
    ctx.restore();
  }
};
Chart.register(decor);

var panels = [
  {canvas: 'cGL', top: 0, padTop: 0, padBottom: 32, topAxis: true, stage: glStage, speed: glSpeed, scatter: glScatter, gaps: glGaps, circles: glCircles},
  {canvas: 'cBH', top: 220, padTop: 18.5, padBottom: 33, stage: bhStage, speed: bhSpeed, scatter: bhScatter, gaps: bhGaps, circles: bhCircles},
  {canvas: 'cSL', top: 430, padTop: 17, padBottom: 34, stage: slStage, speed: slSpeed, scatter: slScatter, gaps: slGaps, circles: slCircles},
  {canvas: 'cCH', top: 640, padTop: 19.5, padBottom: 32, stage: chStage, speed: chSpeed, scatter: chScatter, gaps: chGaps, circles: []},
  {canvas: 'cFC', top: 850, padTop: 20, padBottom: 31.5, stage: fcStage, speed: fcSpeed, scatter: fcScatter, gaps: fcGaps, circles: []}
];

panels.forEach(function (p) {
  var xAxis = p.topAxis ? {
    type: 'linear', position: 'top', min: 0, max: 55,
    ticks: {display: false, stepSize: 1},
    grid: {drawOnChartArea: false, drawTicks: true, tickLength: 14, color: '#000', lineWidth: 1.1},
    border: {display: true, color: '#000', width: 1.3},
    afterFit: function (s) { s.height = 14; s.paddingLeft = 0; s.paddingRight = 0; }
  } : {type: 'linear', min: 0, max: 55, display: false};
  // first panel reaches up to the top time axis: extend the value range to match
  var yMax = p.topAxis ? 3 + 15.5 / 39.625 : 3;
  var y2Max = p.topAxis ? 2 + 15.5 / 158.5 : 2;

  new Chart(document.getElementById(p.canvas), {
    type: 'line',
    data: {
      datasets: [
        {label: 'Speed', data: pts(p.speed), yAxisID: 'y', borderColor: '#000', borderWidth: 3.2,
          pointStyle: 'cross', pointRadius: 5, pointBorderWidth: 2.2, pointBorderColor: '#000', spanGaps: false},
        {label: 'Speed (scattered)', data: pts(p.scatter), yAxisID: 'y', showLine: false,
          pointStyle: 'cross', pointRadius: 5, pointBorderWidth: 2.2, pointBorderColor: '#000'},
        {label: 'Stage', data: pts(p.stage), yAxisID: 'y2', borderColor: '#000', borderWidth: 1.1,
          pointRadius: 0, spanGaps: false},
        {label: 'zero', data: pts(zeroLine), yAxisID: 'y', borderColor: '#8a8a8a', borderWidth: 1, pointRadius: 0},
        {label: 'No velocity data', data: gapPts(p.gaps), yAxisID: 'y', borderColor: 'rgba(0,0,0,0)', borderWidth: 0,
          pointRadius: 0, spanGaps: false, fill: {value: -1}, backgroundColor: '#999999'}
      ]
    },
    options: {
      responsive: false, animation: false, devicePixelRatio: 1, events: [],
      layout: {padding: {top: p.padTop, bottom: p.padBottom, left: 0, right: 0}},
      scales: {
        x: xAxis,
        y: yAxis('left', -1, yMax, speedTicks, 178, 14),
        y2: yAxis('right', 1, y2Max, stageTicks, 200, 11)
      },
      plugins: {
        legend: {display: false}, tooltip: {enabled: false},
        decor: {offY: p.top, circles: p.circles, axes: [['y', speedMinor, 'left'], ['y2', stageMinor, 'right']]}
      }
    }
  });
});

// bottom panel: gate discharge and rainfall
new Chart(document.getElementById('cQ'), {
  type: 'line',
  data: {
    datasets: [
      {label: 'Rainfall', data: rainPts(rainEvents), yAxisID: 'yr', borderColor: '#0000ff', borderWidth: 2.6, pointRadius: 0},
      {label: 'Gate discharge', data: pts(gateFlow), yAxisID: 'yq', borderColor: '#000', borderWidth: 3.5,
        pointRadius: 5, pointStyle: 'circle', pointBackgroundColor: '#000', pointBorderWidth: 0}
    ]
  },
  options: {
    responsive: false, animation: false, devicePixelRatio: 1, events: [],
    layout: {padding: {top: 28, bottom: 20, left: 0, right: 0}},
    scales: {
      x: {
        type: 'linear', position: 'bottom', min: 0, max: 55,
        ticks: {stepSize: 1, autoSkip: false, maxRotation: 0, minRotation: 0, padding: 23, color: '#000',
          font: {family: FONT, size: 30},
          callback: function (v) { return v % 12 === 0 ? xTickLabels[v / 12] : ''; }},
        grid: {drawOnChartArea: false, drawTicks: true, tickLength: 13, color: '#000', lineWidth: 1.1},
        border: {display: true, color: '#000', width: 1.3},
        afterFit: function (s) { s.height = 100; s.paddingLeft = 0; s.paddingRight = 0; }
      },
      yq: yAxis('left', -12 * 160 / 159, 160, gateTicks, 178, 14),
      yr: yAxis('right', -12 * 100 / 159, 100, rainTicks, 200, 24)
    },
    plugins: {
      legend: {display: false}, tooltip: {enabled: false},
      decor: {offY: 1060, circles: [], axes: [['yq', gateMinor, 'left'], ['yr', rainMinor, 'right']]}
    }
  }
});
</script>
</body>
</html>
